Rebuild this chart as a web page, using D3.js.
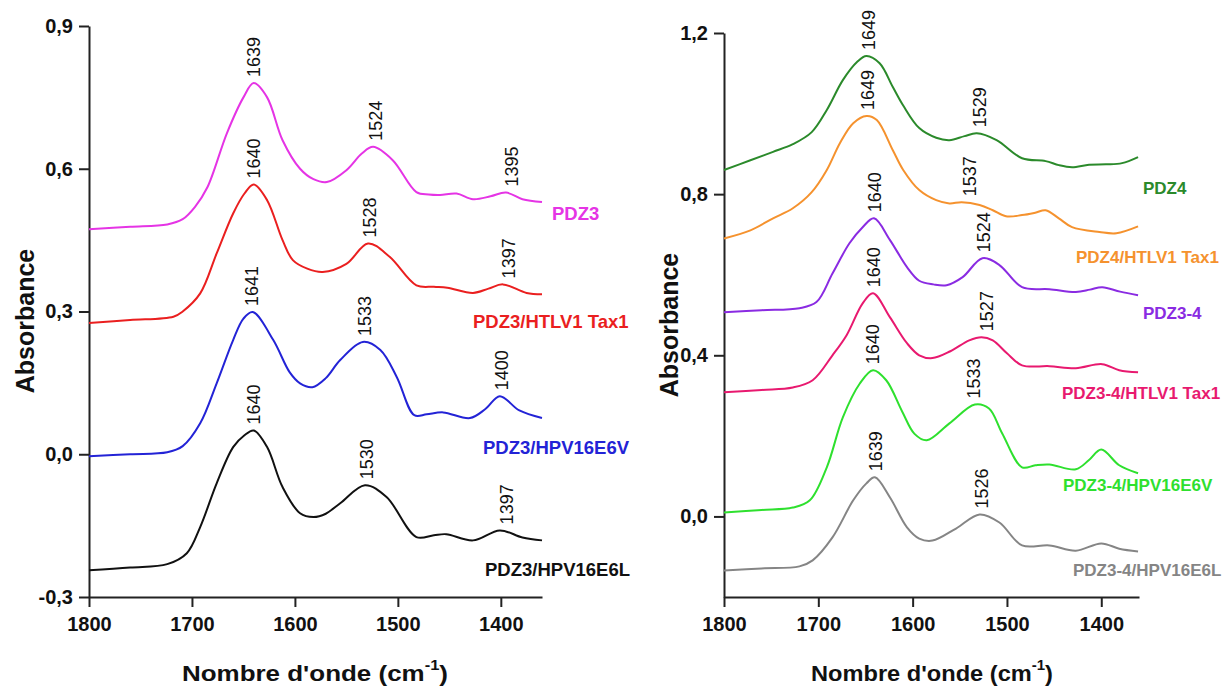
<!DOCTYPE html>
<html>
<head>
<meta charset="utf-8">
<script src="https://cdn.jsdelivr.net/npm/d3@7"></script>
<style>
  html, body { margin: 0; padding: 0; background: #fff; }
  svg { display: block; font-family: "Liberation Sans", Arial, sans-serif; }
</style>
</head>
<body>
<svg id="chart" width="1224" height="686"></svg>
<script>
// ---------------- DATA ----------------
const xTicks = [1800, 1700, 1600, 1500, 1400];
const leftYTicks = [-0.3, 0.0, 0.3, 0.6, 0.9];
const rightYTicks = [0.0, 0.4, 0.8, 1.2];
const xDomain = [1800, 1360];
const leftYDomain = [-0.3, 0.9];
const rightYDomain = [-0.2, 1.2];
const yTitle = "Absorbance";
const xTitleMain = "Nombre d'onde (cm";
const xTitleSup = "-1";

// Left panel series [wavenumber, absorbance]
const pdz3 = [[1800,0.473],[1760,0.478],[1724,0.483],[1709,0.494],[1697,0.52],[1685,0.561],[1666,0.675],[1650,0.75],[1640,0.78],[1627,0.75],[1612,0.66],[1595,0.60],[1582,0.578],[1569,0.572],[1550,0.597],[1535,0.632],[1524,0.646],[1505,0.618],[1482,0.551],[1470,0.546],[1459,0.545],[1443,0.548],[1427,0.536],[1410,0.542],[1395,0.55],[1379,0.536],[1360,0.53]];
const pdz3Htlv = [[1800,0.276],[1760,0.282],[1718,0.289],[1709,0.30],[1692,0.338],[1676,0.422],[1660,0.506],[1649,0.548],[1640,0.567],[1627,0.534],[1612,0.45],[1602,0.408],[1588,0.39],[1573,0.383],[1550,0.40],[1529,0.443],[1508,0.415],[1482,0.355],[1465,0.352],[1452,0.35],[1427,0.339],[1412,0.348],[1398,0.357],[1375,0.339],[1360,0.336]];
const pdz3E6V = [[1800,-0.004],[1760,0.0],[1724,0.004],[1709,0.017],[1692,0.065],[1676,0.149],[1660,0.24],[1650,0.285],[1641,0.299],[1621,0.24],[1605,0.172],[1595,0.149],[1583,0.141],[1570,0.16],[1556,0.198],[1534,0.236],[1517,0.219],[1501,0.162],[1484,0.082],[1472,0.084],[1456,0.088],[1430,0.076],[1415,0.095],[1401,0.122],[1382,0.092],[1360,0.076]];
const pdz3E6L = [[1800,-0.244],[1760,-0.238],[1724,-0.231],[1705,-0.208],[1692,-0.153],[1676,-0.061],[1660,0.015],[1649,0.04],[1640,0.05],[1627,0.015],[1612,-0.069],[1595,-0.124],[1582,-0.132],[1570,-0.125],[1556,-0.103],[1532,-0.065],[1511,-0.09],[1482,-0.174],[1465,-0.17],[1453,-0.168],[1427,-0.181],[1401,-0.16],[1379,-0.175],[1360,-0.181]];

// Right panel series
const pdz4 = [[1800,0.86],[1772,0.884],[1748,0.905],[1727,0.924],[1707,0.954],[1691,1.009],[1674,1.083],[1659,1.128],[1649,1.143],[1635,1.125],[1621,1.066],[1610,1.02],[1593,0.964],[1575,0.94],[1561,0.934],[1545,0.944],[1532,0.951],[1511,0.934],[1484,0.889],[1459,0.882],[1445,0.872],[1431,0.867],[1413,0.873],[1395,0.874],[1378,0.877],[1361,0.892]];
const pdz4Htlv = [[1800,0.69],[1772,0.71],[1748,0.74],[1727,0.765],[1707,0.805],[1691,0.86],[1677,0.927],[1663,0.976],[1649,0.994],[1638,0.984],[1621,0.909],[1610,0.86],[1593,0.81],[1575,0.785],[1561,0.777],[1548,0.78],[1529,0.773],[1515,0.76],[1501,0.745],[1484,0.748],[1470,0.754],[1459,0.76],[1445,0.74],[1431,0.718],[1402,0.706],[1384,0.703],[1361,0.72]];
const pdz34 = [[1800,0.507],[1760,0.512],[1720,0.517],[1702,0.532],[1685,0.603],[1667,0.678],[1653,0.718],[1641,0.74],[1624,0.686],[1606,0.619],[1593,0.585],[1578,0.576],[1564,0.574],[1547,0.594],[1526,0.641],[1508,0.624],[1484,0.569],[1455,0.564],[1427,0.557],[1412,0.563],[1399,0.569],[1380,0.558],[1361,0.549]];
const pdz34Htlv = [[1800,0.308],[1760,0.314],[1727,0.32],[1706,0.338],[1685,0.40],[1670,0.45],[1653,0.529],[1642,0.554],[1624,0.494],[1606,0.43],[1593,0.40],[1579,0.393],[1560,0.41],[1540,0.437],[1527,0.445],[1515,0.437],[1500,0.405],[1484,0.375],[1455,0.373],[1427,0.368],[1399,0.378],[1381,0.363],[1361,0.358]];
const pdz34E6V = [[1800,0.01],[1760,0.016],[1727,0.022],[1709,0.04],[1691,0.122],[1674,0.246],[1656,0.33],[1642,0.363],[1628,0.338],[1611,0.26],[1598,0.205],[1585,0.189],[1561,0.231],[1534,0.278],[1519,0.268],[1505,0.206],[1484,0.122],[1470,0.127],[1455,0.129],[1427,0.117],[1413,0.14],[1400,0.166],[1381,0.127],[1361,0.107]];
const pdz34E6L = [[1800,-0.134],[1760,-0.129],[1720,-0.124],[1706,-0.109],[1685,-0.052],[1663,0.04],[1649,0.082],[1640,0.097],[1624,0.047],[1606,-0.027],[1593,-0.055],[1579,-0.06],[1554,-0.03],[1529,0.005],[1508,-0.015],[1484,-0.072],[1455,-0.072],[1427,-0.085],[1400,-0.067],[1381,-0.08],[1361,-0.087]];

const leftNames = ["PDZ3", "PDZ3/HTLV1 Tax1", "PDZ3/HPV16E6V", "PDZ3/HPV16E6L"];
const rightNames = ["PDZ4", "PDZ4/HTLV1 Tax1", "PDZ3-4", "PDZ3-4/HTLV1 Tax1", "PDZ3-4/HPV16E6V", "PDZ3-4/HPV16E6L"];

// Peak labels: [label text, wavenumber position, absorbance at peak]
const leftPeaks = [
  [["1639",1640,0.78],["1524",1522,0.646],["1395",1389,0.55]],
  [["1640",1640,0.567],["1528",1527,0.443],["1397",1392,0.357]],
  [["1641",1642,0.299],["1533",1532,0.236],["1400",1399,0.122]],
  [["1640",1640,0.05],["1530",1530,-0.065],["1397",1394,-0.16]]
];
const rightPeaks = [
  [["1649",1647,1.143],["1529",1529,0.951]],
  [["1649",1648,0.994],["1537",1540,0.78]],
  [["1640",1640,0.74],["1524",1525,0.641]],
  [["1640",1641,0.554],["1527",1522,0.445]],
  [["1640",1642,0.363],["1533",1535,0.278]],
  [["1639",1639,0.097],["1526",1527,0.005]]
];

// ---------------- STYLE / LAYOUT ----------------
const leftColors = ["#e534e5", "#ea1f1f", "#2323d6", "#111111"];
const rightColors = ["#2b8a2b", "#f5922e", "#8a2be2", "#e8196f", "#2ee02e", "#858585"];
const leftNamePos = [[552,220],[473,328],[483,454],[485,576]];
const rightNamePos = [[1143,194],[1076,263],[1143,319],[1062,399],[1063,491],[1073,576]];

const svg = d3.select("#chart");
const fmt = d3.formatLocale({decimal: ",", thousands: ".", grouping: [3], currency: ["", ""], minus: "-"}).format(".1f");

function panel(cfg) {
  const x = d3.scaleLinear().domain(xDomain).range(cfg.xRange);
  const y = d3.scaleLinear().domain(cfg.yDomain).range(cfg.yRange);
  const g = svg.append("g");

  // axes
  const yAxis = g.append("g")
    .attr("transform", `translate(${cfg.xRange[0]},0)`)
    .call(d3.axisLeft(y).tickValues(cfg.yTicks).tickFormat(fmt).tickSize(10).tickPadding(6).tickSizeOuter(0));
  const xAxis = g.append("g")
    .attr("transform", `translate(0,${cfg.yRange[0]})`)
    .call(d3.axisBottom(x).tickValues(xTicks).tickFormat(d3.format("d")).tickSize(10).tickPadding(10).tickSizeOuter(0));
  [yAxis, xAxis].forEach(a => {
    a.select(".domain").attr("stroke", "#222").attr("stroke-width", 2);
    a.selectAll(".tick line").attr("stroke", "#222").attr("stroke-width", 2);
    a.selectAll(".tick text").attr("fill", "#111").attr("font-size", 20).attr("font-weight", "bold")
      .attr("font-family", "'Liberation Sans', Arial, sans-serif");
  });

  const line = d3.line().x(d => x(d[0])).y(d => y(d[1])).curve(d3.curveCatmullRom.alpha(0.5));

  cfg.series.forEach((s, i) => {
    g.append("path").datum(s).attr("d", line)
      .attr("fill", "none").attr("stroke", cfg.colors[i]).attr("stroke-width", 2)
      .attr("stroke-linejoin", "round");
    cfg.peaks[i].forEach(p => {
      const px = x(p[1]), py = y(p[2]) - 6;
      g.append("text")
        .attr("transform", `translate(${px},${py}) rotate(-90)`)
        .attr("dy", "0.35em")
        .attr("font-size", 18).attr("fill", "#111")
        .text(p[0]);
    });
    g.append("text")
      .attr("x", cfg.namePos[i][0]).attr("y", cfg.namePos[i][1])
      .attr("font-size", cfg.nameSize).attr("font-weight", "bold")
      .attr("fill", cfg.colors[i])
      .text(cfg.names[i]);
  });

  // axis titles
  g.append("text")
    .attr("transform", `translate(${cfg.yTitlePos[0]},${cfg.yTitlePos[1]}) rotate(-90)`)
    .attr("text-anchor", "middle").attr("dy", "0.35em")
    .attr("font-size", 25).attr("font-weight", "bold").attr("fill", "#111")
    .text(yTitle);
  const xt = g.append("text")
    .attr("x", cfg.xTitlePos[0]).attr("y", cfg.xTitlePos[1])
    .attr("font-size", 22).attr("font-weight", "bold").attr("fill", "#111")
    .attr("textLength", cfg.xTitleLen).attr("lengthAdjust", "spacingAndGlyphs");
  xt.append("tspan").text(xTitleMain);
  xt.append("tspan").attr("font-size", 14).attr("dy", -11).text(xTitleSup);
  xt.append("tspan").attr("font-size", 22).attr("dy", 11).text(")");
}

panel({
  xRange: [89, 542], yDomain: leftYDomain, yRange: [597, 26], yTicks: leftYTicks,
  series: [pdz3, pdz3Htlv, pdz3E6V, pdz3E6L], colors: leftColors, names: leftNames,
  namePos: leftNamePos, nameSize: 18.5, peaks: leftPeaks,
  yTitlePos: [25, 321], xTitlePos: [182, 681], xTitleLen: 266
});
panel({
  xRange: [724, 1139], yDomain: rightYDomain, yRange: [597, 33], yTicks: rightYTicks,
  series: [pdz4, pdz4Htlv, pdz34, pdz34Htlv, pdz34E6V, pdz34E6L], colors: rightColors, names: rightNames,
  namePos: rightNamePos, nameSize: 17, peaks: rightPeaks,
  yTitlePos: [669, 325], xTitlePos: [811, 681], xTitleLen: 242
});
</script>
</body>
</html>
